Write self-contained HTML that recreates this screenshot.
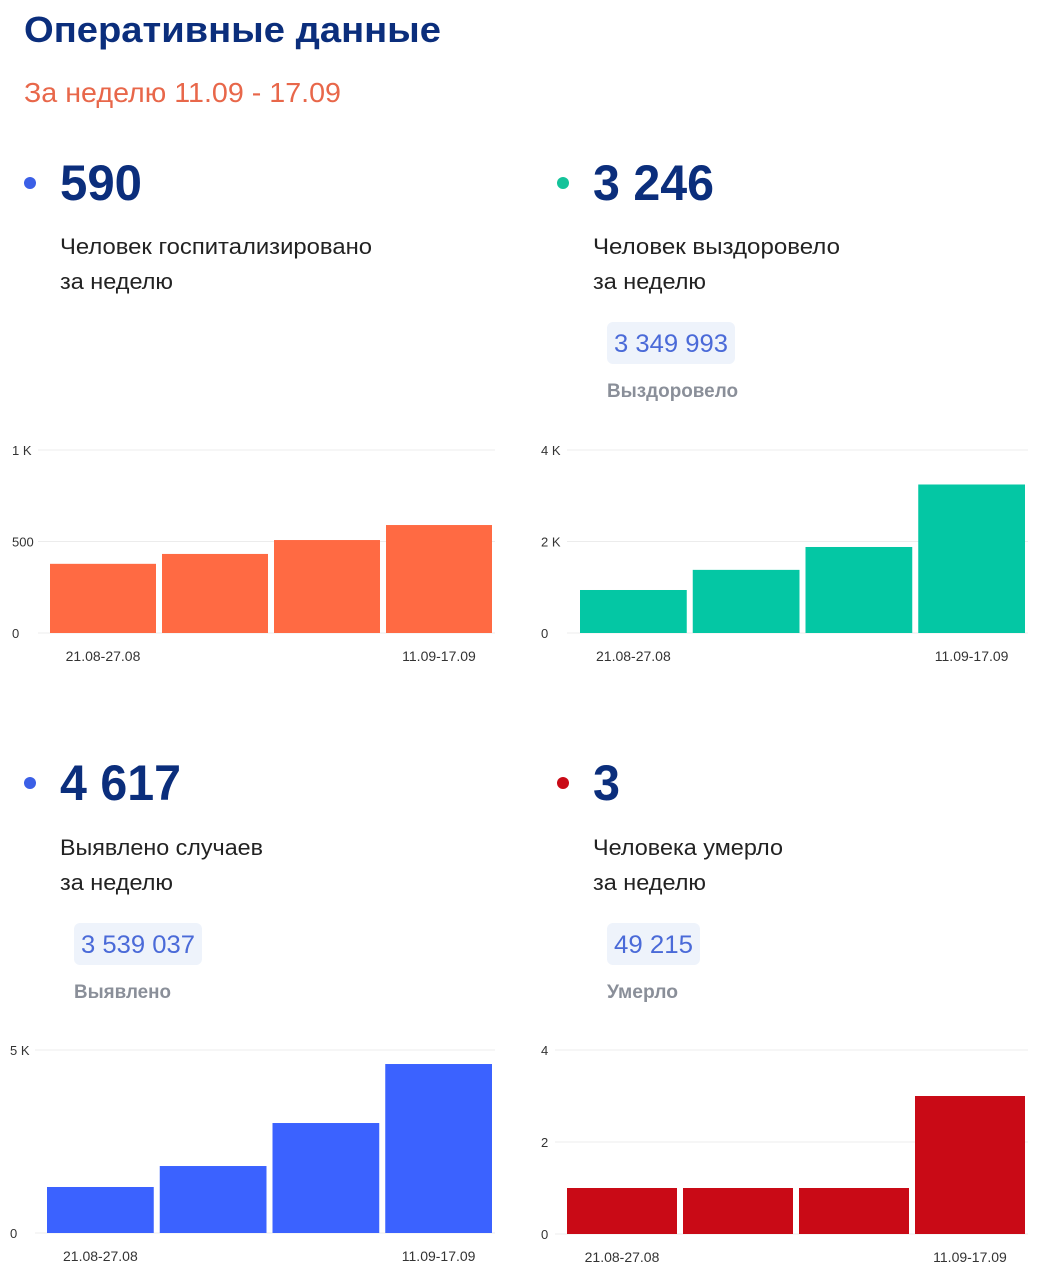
<!DOCTYPE html>
<html><head><meta charset="utf-8"><style>
html,body{margin:0;padding:0;background:#fff;}
svg{display:block;font-family:"Liberation Sans",sans-serif;}
</style></head><body>
<svg id="s" width="1046" height="1280" viewBox="0 0 1046 1280">
<text x="24" y="42" font-size="36" font-weight="bold" fill="#0b2e7c" textLength="417" lengthAdjust="spacingAndGlyphs">Оперативные данные</text>
<text x="24" y="102" font-size="28" fill="#e8674a" textLength="317" lengthAdjust="spacingAndGlyphs">За неделю 11.09 - 17.09</text>

<circle cx="30" cy="183" r="6" fill="#3b5fe6"/>
<text x="60" y="200" font-size="50" font-weight="bold" fill="#0b2e7c" textLength="82" lengthAdjust="spacingAndGlyphs">590</text>
<text x="60" y="254" font-size="22" fill="#222" textLength="312" lengthAdjust="spacingAndGlyphs">Человек госпитализировано</text>
<text x="60" y="289" font-size="22" fill="#222" textLength="113" lengthAdjust="spacingAndGlyphs">за неделю</text>

<circle cx="563" cy="183" r="6" fill="#14c39a"/>
<text x="593" y="200" font-size="50" font-weight="bold" fill="#0b2e7c" textLength="121" lengthAdjust="spacingAndGlyphs">3 246</text>
<text x="593" y="254" font-size="22" fill="#222" textLength="247" lengthAdjust="spacingAndGlyphs">Человек выздоровело</text>
<text x="593" y="289" font-size="22" fill="#222" textLength="113" lengthAdjust="spacingAndGlyphs">за неделю</text>
<rect x="607" y="322" width="128" height="42" rx="6" fill="#eef3fb"/>
<text x="614" y="352" font-size="25" fill="#4a6ad8" textLength="114" lengthAdjust="spacingAndGlyphs">3 349 993</text>
<text x="607" y="397" font-size="19" font-weight="bold" fill="#8a8f99" textLength="131" lengthAdjust="spacingAndGlyphs">Выздоровело</text>

<circle cx="30" cy="783" r="6" fill="#3b5fe6"/>
<text x="60" y="800" font-size="50" font-weight="bold" fill="#0b2e7c" textLength="121" lengthAdjust="spacingAndGlyphs">4 617</text>
<text x="60" y="855" font-size="22" fill="#222" textLength="203" lengthAdjust="spacingAndGlyphs">Выявлено случаев</text>
<text x="60" y="890" font-size="22" fill="#222" textLength="113" lengthAdjust="spacingAndGlyphs">за неделю</text>
<rect x="74" y="923" width="128" height="42" rx="6" fill="#eef3fb"/>
<text x="81" y="953" font-size="25" fill="#4a6ad8" textLength="114" lengthAdjust="spacingAndGlyphs">3 539 037</text>
<text x="74" y="998" font-size="19" font-weight="bold" fill="#8a8f99" textLength="97" lengthAdjust="spacingAndGlyphs">Выявлено</text>

<circle cx="563" cy="783" r="6" fill="#c90a16"/>
<text x="593" y="800" font-size="50" font-weight="bold" fill="#0b2e7c" textLength="27" lengthAdjust="spacingAndGlyphs">3</text>
<text x="593" y="855" font-size="22" fill="#222" textLength="190" lengthAdjust="spacingAndGlyphs">Человека умерло</text>
<text x="593" y="890" font-size="22" fill="#222" textLength="113" lengthAdjust="spacingAndGlyphs">за неделю</text>
<rect x="607" y="923" width="93" height="42" rx="6" fill="#eef3fb"/>
<text x="614" y="953" font-size="25" fill="#4a6ad8" textLength="79" lengthAdjust="spacingAndGlyphs">49 215</text>
<text x="607" y="998" font-size="19" font-weight="bold" fill="#8a8f99" textLength="71" lengthAdjust="spacingAndGlyphs">Умерло</text>
</svg>
<script>
const categories = ["21.08-27.08", "28.08-03.09", "04.09-10.09", "11.09-17.09"];
const hospitalizedValues = [378, 432, 508, 590];
const recoveredValues = [940, 1380, 1880, 3246];
const casesValues = [1257, 1830, 3005, 4617];
const deathsValues = [1, 1, 1, 3];
const hospTicks = [0, 500, 1000];
const hospTickLabels = ["0", "500", "1 K"];
const recTicks = [0, 2000, 4000];
const recTickLabels = ["0", "2 K", "4 K"];
const casesTicks = [5000];
const casesTickLabels = ["5 K"];
const casesTicksAll = [0, 5000];
const casesTickLabelsAll = ["0", "5 K"];
const deathsTicks = [0, 2, 4];
const deathsTickLabels = ["0", "2", "4"];

const NS = "http://www.w3.org/2000/svg";
const svg = document.getElementById("s");
function mk(tag, attrs, parent) {
  const e = document.createElementNS(NS, tag);
  for (const k in attrs) e.setAttribute(k, attrs[k]);
  (parent || svg).appendChild(e);
  return e;
}
function chart(name, cfg, values, ticks, tickLabels, color) {
  const g = mk("g", {});
  
  
  const maxV = ticks[ticks.length - 1];
  const y = v => cfg.y0 - (v / maxV) * (cfg.y0 - cfg.yTop);
  ticks.forEach((t, i) => {
    const ln = mk("line", {x1: cfg.gx0, x2: cfg.gx1, y1: y(t), y2: y(t), stroke: "#ececec", "stroke-width": 1}, g);
    
    
    const tx = mk("text", {x: cfg.lx, y: y(t) + 5, "font-size": 13, fill: "#333"}, g);
    
    
    tx.textContent = tickLabels[i];
  });
  const n = values.length;
  const step = (cfg.bx1 - cfg.bx0) / n;
  const gap = 6;
  values.forEach((v, i) => {
    const bx = cfg.bx0 + i * step;
    const r = mk("rect", {x: bx, y: y(v), width: step - gap, height: cfg.y0 - y(v), fill: color}, g);
    
    
  });
  [0, n - 1].forEach(i => {
    const cx = cfg.bx0 + i * step + (step - gap) / 2;
    const tx = mk("text", {x: cx, y: cfg.y0 + 28, "font-size": 14, fill: "#333", "text-anchor": "middle"}, g);
    
    
    tx.textContent = categories[i];
  });
}
chart("hospitalized", {y0: 633, yTop: 450, gx0: 38, gx1: 495, lx: 12, bx0: 50, bx1: 498}, hospitalizedValues, hospTicks, hospTickLabels, "#ff6a43");
chart("recovered", {y0: 633, yTop: 450, gx0: 567, gx1: 1028, lx: 541, bx0: 580, bx1: 1031}, recoveredValues, recTicks, recTickLabels, "#04c7a4");
chart("cases", {y0: 1233, yTop: 1050, gx0: 35, gx1: 495, lx: 10, bx0: 47, bx1: 498}, casesValues, casesTicksAll, casesTickLabelsAll, "#3b62ff");
chart("deaths", {y0: 1234, yTop: 1050, gx0: 555, gx1: 1028, lx: 541, bx0: 567, bx1: 1031}, deathsValues, deathsTicks, deathsTickLabels, "#c90a16");
</script>
</body></html>
